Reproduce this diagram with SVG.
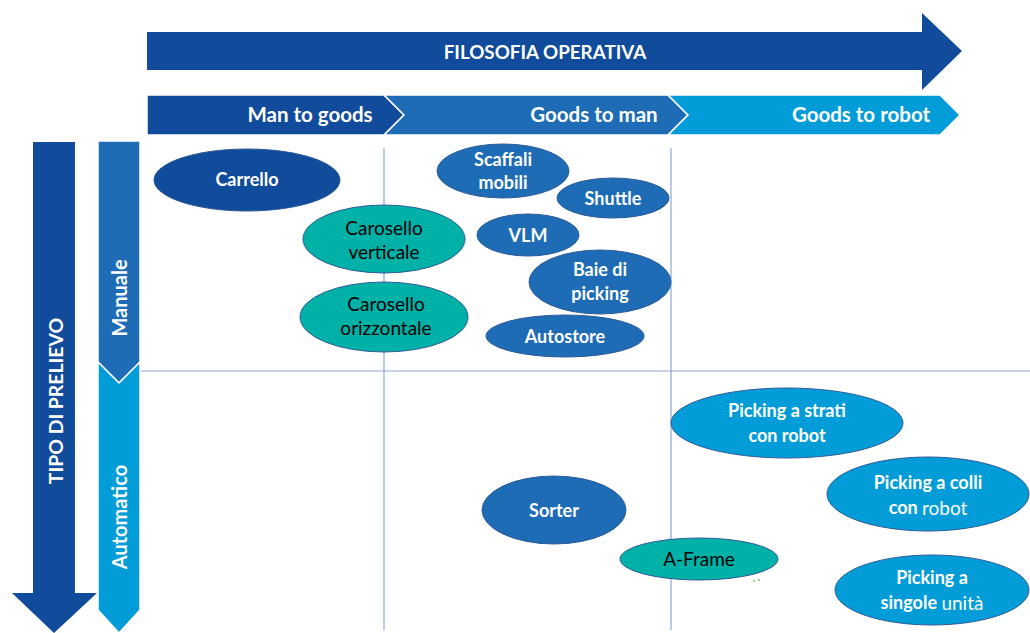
<svg xmlns="http://www.w3.org/2000/svg" width="1030" height="633" viewBox="0 0 1030 633">
<style>
text{font-family:Lato,"Open Sans","Liberation Sans",sans-serif;text-anchor:middle;dominant-baseline:central}
.w{fill:#fff;font-weight:bold;font-size:18px}
.h{fill:#fff;font-weight:bold;font-size:20.5px}
.k{fill:#000;font-size:19px}
.n{font-weight:normal;font-size:19px}
.dk{fill:#114B9B}
.md{fill:#1D6CB5}
.lt{fill:#029CD8}
.tl{fill:#00B1A8}
.e{stroke:#2E5A97;stroke-width:1}
.grid{stroke:#8EA6D6;stroke-width:1.2;fill:none}
</style>
<rect width="1030" height="633" fill="#fff"/>
<g id="grid" class="grid">
<line x1="384" y1="148" x2="384" y2="630"/>
<line x1="671" y1="148" x2="671" y2="630"/>
<line x1="140" y1="371" x2="1030" y2="371"/>
</g>
<g id="filosofia">
<polygon class="dk" points="147,32 922,32 922,13 962,51 922,90 922,70 147,70"/>
<text class="h" x="545" y="51" style="font-size:18.8px">FILOSOFIA OPERATIVA</text>
</g>
<g id="man-to-goods">
<polygon class="dk" points="147,95 384,95 404,115 384,135 147,135" stroke="#fff" stroke-width="1.5"/>
<text class="h" x="310" y="114">Man to goods</text>
</g>
<g id="goods-to-man">
<polygon class="md" points="384,95 668,95 688,115 668,135 384,135 404,115" stroke="#fff" stroke-width="1.5"/>
<text class="h" x="594" y="114">Goods to man</text>
</g>
<g id="goods-to-robot">
<polygon class="lt" points="668,95 940,95 960,115 940,135 668,135 688,115" stroke="#fff" stroke-width="1.5"/>
<text class="h" x="861" y="114">Goods to robot</text>
</g>
<g id="tipo-di-prelievo">
<polygon class="dk" points="33,142 75,142 75,593 97,593 54,633 12,593 33,593"/>
<text class="h" transform="translate(55,401) rotate(-90)" style="font-size:19.4px">TIPO DI PRELIEVO</text>
</g>
<g id="manuale">
<polygon class="md" points="98,141 140,141 140,362 119,383 98,362" stroke="#fff" stroke-width="1.5"/>
<text class="h" transform="translate(119,298) rotate(-90)" style="font-size:20px">Manuale</text>
</g>
<g id="automatico">
<polygon class="lt" points="98,362 119,383 140,362 140,610 119,633 98,610" stroke="#fff" stroke-width="1.5"/>
<text class="h" transform="translate(119,517) rotate(-90)" style="font-size:20px">Automatico</text>
</g>
<g id="carrello"><ellipse class="dk e" cx="247" cy="180" rx="93" ry="31"/><text class="w" x="247" y="179">Carrello</text></g>
<g id="carosello-verticale"><ellipse class="tl e" cx="384" cy="239" rx="81" ry="34"/><text class="k" x="384" y="227">Carosello</text><text class="k" x="384" y="251">verticale</text></g>
<g id="carosello-orizzontale"><ellipse class="tl e" cx="384" cy="317" rx="84" ry="35"/><text class="k" x="386" y="303">Carosello</text><text class="k" x="386" y="327">orizzontale</text></g>
<g id="scaffali-mobili"><ellipse class="md e" cx="503" cy="171" rx="66" ry="27"/><text class="w" x="503" y="159">Scaffali</text><text class="w" x="503" y="182">mobili</text></g>
<g id="shuttle"><ellipse class="md e" cx="613" cy="198" rx="56" ry="20"/><text class="w" x="613" y="198">Shuttle</text></g>
<g id="vlm"><ellipse class="md e" cx="528" cy="235" rx="51" ry="21"/><text class="w" x="528" y="235">VLM</text></g>
<g id="baie-di-picking"><ellipse class="md e" cx="600" cy="282" rx="71" ry="32"/><text class="w" x="600" y="269">Baie di</text><text class="w" x="600" y="293">picking</text></g>
<g id="autostore"><ellipse class="md e" cx="565" cy="336" rx="79" ry="21"/><text class="w" x="565" y="336">Autostore</text></g>
<g id="sorter"><ellipse class="md e" cx="554" cy="510" rx="72" ry="34"/><text class="w" x="554" y="510">Sorter</text></g>
<g id="a-frame"><ellipse class="tl e" cx="699" cy="559" rx="79" ry="21"/><text class="k" x="699" y="558">A-Frame</text></g>
<g id="picking-strati"><ellipse class="lt e" cx="787" cy="423" rx="116" ry="35"/><text class="w" x="787" y="410">Picking a strati</text><text class="w" x="787" y="435">con robot</text></g>
<g id="picking-colli"><ellipse class="lt e" cx="928" cy="494" rx="101" ry="37"/><text class="w" x="928" y="482">Picking a colli</text><text class="w" x="928" y="507">con <tspan class="n">robot</tspan></text></g>
<g id="picking-singole"><ellipse class="lt e" cx="932" cy="590" rx="97" ry="35"/><text class="w" x="932" y="577">Picking a</text><text class="w" x="932" y="602">singole <tspan class="n">unità</tspan></text></g>
<g id="dots" fill="#7DC242"><circle cx="754" cy="581" r="0.9"/><circle cx="759" cy="580" r="0.9"/></g>
</svg>
